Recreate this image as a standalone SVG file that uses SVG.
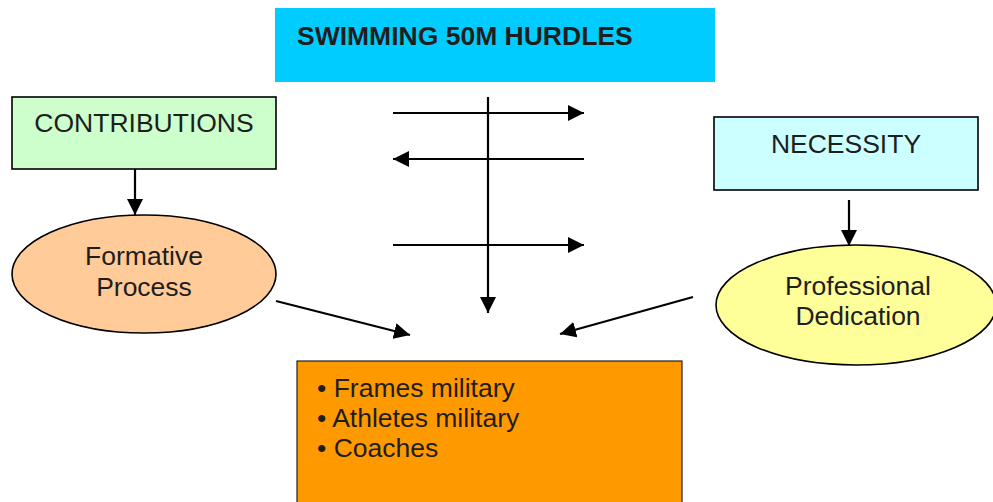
<svg xmlns="http://www.w3.org/2000/svg" width="993" height="502" viewBox="0 0 993 502">
<defs>
<style>
text{font-family:"Liberation Sans",Arial,sans-serif;font-size:26.5px;fill:#1e1e1e}
.b{font-weight:bold}
.m{text-anchor:middle}
.n{stroke:#000;stroke-width:1.6}
.c{stroke:#000;stroke-width:2.2;fill:none}
</style>
<marker id="ah" viewBox="0 0 10 10" refX="10" refY="5" markerWidth="16" markerHeight="16" markerUnits="userSpaceOnUse" orient="auto">
<path d="M0,0 L10,5 L0,10 Z" fill="#000"/>
</marker>
</defs>
<rect width="993" height="502" fill="#fff"/>
<g id="title">
<rect x="275" y="8" width="440" height="74" fill="#00CCFF"/>
<text class="b" x="297" y="45">SWIMMING 50M HURDLES</text>
</g>
<g id="contributions">
<rect class="n" x="12" y="97" width="264" height="72" fill="#CCFFCC"/>
<text class="m" x="144" y="132">CONTRIBUTIONS</text>
</g>
<g id="formative">
<ellipse class="n" cx="144" cy="274" rx="132" ry="59" fill="#FFCC99"/>
<text class="m" x="144" y="265">Formative</text>
<text class="m" x="144" y="296">Process</text>
</g>
<g id="necessity">
<rect class="n" x="714" y="117" width="264" height="73" fill="#CCFFFF"/>
<text class="m" x="846" y="153">NECESSITY</text>
</g>
<g id="professional">
<ellipse class="n" cx="856" cy="305" rx="140" ry="60" fill="#FFFF99"/>
<text class="m" x="858" y="295">Professional</text>
<text class="m" x="858" y="325">Dedication</text>
</g>
<g id="target">
<rect x="297" y="361" width="385" height="150" fill="#FF9900" stroke="#222" stroke-width="1.2"/>
<text x="317" y="397">• Frames military</text>
<text x="317" y="427">• Athletes military</text>
<text x="317" y="457">• Coaches</text>
</g>
<g id="connectors">
<line class="c" x1="135" y1="169" x2="135" y2="215" marker-end="url(#ah)"/>
<line class="c" x1="849" y1="200" x2="849" y2="246" marker-end="url(#ah)"/>
<line class="c" x1="488" y1="97" x2="488" y2="313" marker-end="url(#ah)"/>
<line class="c" x1="393" y1="113" x2="584" y2="113" marker-end="url(#ah)"/>
<line class="c" x1="584" y1="159" x2="393" y2="159" marker-end="url(#ah)"/>
<line class="c" x1="393" y1="245" x2="584" y2="245" marker-end="url(#ah)"/>
<line class="c" x1="276" y1="301" x2="410" y2="335" marker-end="url(#ah)"/>
<line class="c" x1="693" y1="297" x2="560" y2="334" marker-end="url(#ah)"/>
</g>
</svg>
